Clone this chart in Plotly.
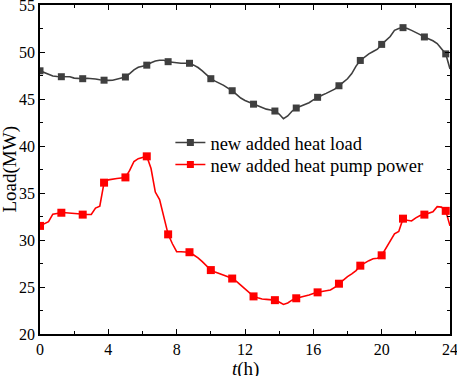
import plotly.graph_objects as go

hours = [i * 0.25 for i in range(97)]

heat_load = [
    48.0, 47.8, 47.6, 47.45, 47.4, 47.37, 47.38, 47.37, 47.22, 47.15,
    47.16, 47.2, 47.2, 47.12, 47.05, 47.0, 46.98, 47.0, 47.1, 47.2,
    47.34, 47.7, 48.1, 48.37, 48.5, 48.6, 48.85, 49.04, 49.13, 49.12,
    48.97, 48.9, 48.85, 48.8, 48.8, 48.8, 48.6, 48.35, 48.0, 47.55,
    47.16, 46.9, 46.7, 46.45, 46.15, 45.88, 45.5, 45.1, 44.85, 44.65,
    44.45, 44.25, 44.05, 43.92, 43.82, 43.72, 43.4, 42.9, 43.2, 43.7,
    44.04, 44.25, 44.4, 44.6, 44.9, 45.18, 45.4, 45.6, 45.8, 46.05,
    46.41, 46.8, 47.15, 47.7, 48.5, 49.1, 49.45, 49.8, 50.05, 50.3,
    50.81, 51.2, 51.65, 52.3, 52.5, 52.59, 52.5, 52.3, 52.1, 51.85,
    51.6, 51.4, 51.2, 50.9, 50.4, 49.8, 48.2,
]

pump_power = [
    31.5, 31.7, 31.95, 32.75, 32.85, 32.9, 32.9, 32.85, 32.8, 32.77,
    32.7, 32.72, 32.73, 33.4, 33.6, 36.1, 36.4, 36.5, 36.55, 36.6,
    36.66, 37.4, 38.35, 38.65, 38.8, 38.9, 37.6, 35.1, 34.3, 32.4,
    30.6, 29.6, 28.76, 28.75, 28.72, 28.7, 28.4, 28.1, 27.7, 27.25,
    26.8, 26.6, 26.45, 26.3, 26.1, 25.9, 25.6, 25.2, 24.8, 24.4,
    24.0, 23.85, 23.72, 23.68, 23.65, 23.6, 23.4, 23.15, 23.3, 23.6,
    23.8, 23.9, 24.0, 24.15, 24.3, 24.43, 24.52, 24.6, 24.68, 24.95,
    25.35, 25.8, 26.1, 26.4, 26.75, 27.27, 27.55, 27.8, 28.0, 28.05,
    28.37, 29.1, 29.8, 30.65, 30.9, 32.27, 32.1, 32.02, 32.35, 32.6,
    32.7, 32.85, 33.0, 33.55, 33.5, 33.1, 31.5,
]

series_names = ["new added heat load", "new added heat pump power"]
x_ticks = [0, 4, 8, 12, 16, 20, 24]
y_ticks = [20, 25, 30, 35, 40, 45, 50, 55]

MARK_STEP = 5
FONT = "Liberation Serif, Times New Roman, serif"

styles = [
    dict(color="#3f3f3f", mcolor="#3f3f3f", msize=7, legend="legend", ly=0.5805),
    dict(color="#ff0000", mcolor="#ff0000", msize=8, legend="legend2", ly=0.5137),
]

fig = go.Figure()
for name, vals, st in zip(series_names, [heat_load, pump_power], styles):
    fig.add_trace(go.Scatter(
        x=hours, y=vals, mode="lines",
        line=dict(color=st["color"], width=1.6),
        showlegend=False, hoverinfo="skip",
    ))
    fig.add_trace(go.Scatter(
        x=hours[::MARK_STEP], y=vals[::MARK_STEP], mode="markers",
        marker=dict(symbol="square", size=st["msize"], color=st["mcolor"]),
        showlegend=False,
    ))
    fig.add_trace(go.Scatter(
        x=[None], y=[None], mode="lines+markers", name=name,
        line=dict(color=st["color"], width=1.6),
        marker=dict(symbol="square", size=7, color=st["mcolor"]),
        legend=st["legend"],
    ))

axis_common = dict(
    showline=True, linecolor="black", linewidth=1.5, mirror="ticks",
    ticks="inside", ticklen=5, tickwidth=1.2, tickcolor="black",
    showgrid=False, zeroline=False, automargin=False,
    ticklabeloverflow="allow",
    tickfont=dict(family=FONT, size=16, color="black"),
)

fig.update_xaxes(
    range=[0, 24], tickvals=x_ticks, ticktext=[str(v) for v in x_ticks],
    minor=dict(dtick=2, ticks="inside", ticklen=3, tickcolor="black", tickwidth=1.2),
    **axis_common,
)
fig.update_yaxes(
    range=[20, 55], tickvals=y_ticks, ticktext=[str(v) for v in y_ticks],
    minor=dict(dtick=2.5, ticks="inside", ticklen=3, tickcolor="black", tickwidth=1.2),
    **axis_common,
)

legend_common = dict(
    x=0.318, xanchor="left", yanchor="middle",
    font=dict(family=FONT, size=18.5, color="black"),
    bgcolor="rgba(0,0,0,0)",
)

fig.update_layout(
    width=457, height=376,
    margin=dict(l=40, r=7, t=5, b=42),
    paper_bgcolor="white", plot_bgcolor="white",
    font=dict(family=FONT, color="black"),
    legend=dict(y=styles[0]["ly"], **legend_common),
    legend2=dict(y=styles[1]["ly"], **legend_common),
    annotations=[
        dict(text="<i>t</i>(h)", xref="paper", yref="paper", x=0.5, y=0,
             xanchor="center", yanchor="top", yshift=-22, showarrow=False,
             font=dict(family=FONT, size=19, color="black")),
        dict(text="Load(MW)", xref="paper", yref="paper", x=0, y=0.5,
             xanchor="center", yanchor="middle", xshift=-31, textangle=-90,
             showarrow=False, font=dict(family=FONT, size=19, color="black")),
    ],
)

fig.write_html(
    "out.html",
    config={"displayModeBar": False},
    post_script="document.body.style.margin='0px';document.body.style.overflow='hidden';",
)
